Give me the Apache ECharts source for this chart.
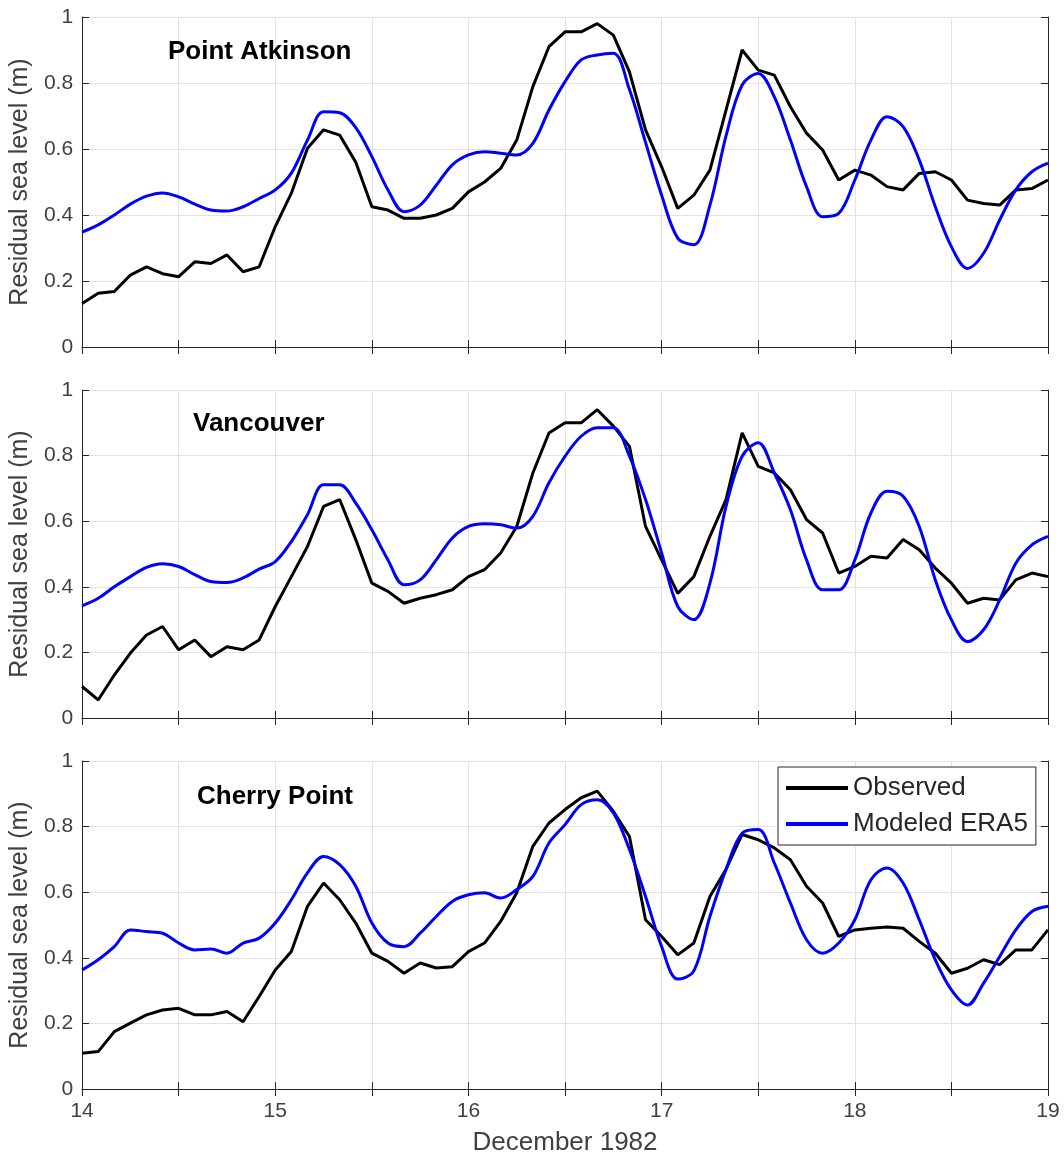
<!DOCTYPE html>
<html>
<head>
<meta charset="utf-8">
<script src="https://cdn.jsdelivr.net/npm/echarts@6/dist/echarts.min.js"></script>
<style>
  html, body { margin: 0; padding: 0; background: #fff; }
  #chart { width: 1064px; height: 1159px; }
</style>
</head>
<body>
<div id="chart"></div>
<script>
// time axis: every 2 hours from 14 Dec to 19 Dec 1982
const days = Array.from({ length: 61 }, (_, i) => 14 + i / 12);

const stations = ["Point Atkinson", "Vancouver", "Cherry Point"];

// Point Atkinson
const paObserved = [0.132, 0.163, 0.168, 0.218, 0.243, 0.222, 0.213, 0.258, 0.253, 0.279,
  0.228, 0.243, 0.365, 0.466, 0.602, 0.658, 0.642, 0.56, 0.425, 0.415,
  0.39, 0.39, 0.40, 0.42, 0.47, 0.50, 0.541, 0.627, 0.789, 0.91,
  0.955, 0.955, 0.98, 0.945, 0.834, 0.658, 0.546, 0.42, 0.46, 0.536,
  0.718, 0.90, 0.839, 0.824, 0.728, 0.648, 0.597, 0.506, 0.536, 0.521,
  0.486, 0.476, 0.526, 0.531, 0.506, 0.445, 0.435, 0.43, 0.476, 0.48, 0.506];
const paModeled = [0.348, 0.37, 0.40, 0.433, 0.457, 0.467, 0.455, 0.433, 0.415, 0.412,
  0.425, 0.45, 0.476, 0.527, 0.627, 0.713, 0.71, 0.665, 0.577, 0.476,
  0.41, 0.43, 0.49, 0.552, 0.582, 0.592, 0.587, 0.582, 0.617, 0.718,
  0.804, 0.87, 0.885, 0.89, 0.78, 0.62, 0.46, 0.33, 0.31, 0.43,
  0.64, 0.794, 0.829, 0.758, 0.627, 0.486, 0.395, 0.405, 0.506, 0.627,
  0.698, 0.668, 0.567, 0.425, 0.304, 0.238, 0.284, 0.385, 0.476, 0.531, 0.557];

// Vancouver
const vaObserved = [0.096, 0.055, 0.131, 0.198, 0.253, 0.279, 0.208, 0.238, 0.187, 0.217,
  0.208, 0.238, 0.34, 0.431, 0.523, 0.645, 0.666, 0.544, 0.411, 0.386,
  0.35, 0.365, 0.376, 0.391, 0.431, 0.452, 0.503, 0.584, 0.747, 0.869,
  0.90, 0.90, 0.94, 0.89, 0.828, 0.584, 0.482, 0.38, 0.431, 0.554,
  0.666, 0.869, 0.767, 0.747, 0.696, 0.605, 0.564, 0.442, 0.462, 0.493,
  0.488, 0.544, 0.513, 0.457, 0.411, 0.35, 0.365, 0.36, 0.421, 0.442, 0.431];
const vaModeled = [0.342, 0.365, 0.40, 0.431, 0.459, 0.47, 0.462, 0.437, 0.416, 0.413,
  0.427, 0.454, 0.477, 0.538, 0.62, 0.711, 0.711, 0.655, 0.574, 0.482,
  0.406, 0.421, 0.482, 0.549, 0.584, 0.592, 0.589, 0.579, 0.615, 0.717,
  0.798, 0.859, 0.885, 0.885, 0.798, 0.666, 0.503, 0.34, 0.30, 0.411,
  0.645, 0.798, 0.839, 0.747, 0.635, 0.482, 0.391, 0.391, 0.482, 0.625,
  0.691, 0.676, 0.584, 0.421, 0.299, 0.233, 0.269, 0.36, 0.472, 0.528, 0.554];

// Cherry Point
const cpObserved = [0.109, 0.114, 0.175, 0.201, 0.226, 0.241, 0.246, 0.226, 0.226, 0.236,
  0.205, 0.282, 0.363, 0.419, 0.557, 0.628, 0.577, 0.506, 0.414, 0.389,
  0.353, 0.384, 0.369, 0.373, 0.419, 0.445, 0.511, 0.598, 0.74, 0.811,
  0.852, 0.888, 0.908, 0.847, 0.77, 0.516, 0.465, 0.409, 0.445, 0.587,
  0.67, 0.776, 0.76, 0.735, 0.699, 0.618, 0.567, 0.465, 0.485, 0.49,
  0.494, 0.49, 0.45, 0.414, 0.353, 0.368, 0.394, 0.379, 0.424, 0.424, 0.485];
const cpModeled = [0.363, 0.394, 0.434, 0.485, 0.48, 0.475, 0.445, 0.424, 0.427, 0.414,
  0.445, 0.46, 0.506, 0.577, 0.659, 0.709, 0.684, 0.618, 0.506, 0.445,
  0.434, 0.475, 0.526, 0.572, 0.592, 0.598, 0.582, 0.608, 0.648, 0.75,
  0.806, 0.867, 0.882, 0.842, 0.73, 0.587, 0.434, 0.335, 0.36, 0.526,
  0.669, 0.78, 0.791, 0.689, 0.567, 0.455, 0.414, 0.445, 0.516, 0.638,
  0.674, 0.628, 0.516, 0.394, 0.302, 0.256, 0.323, 0.404, 0.485, 0.541, 0.557];

const observed = [paObserved, vaObserved, cpObserved];
const modeled = [paModeled, vaModeled, cpModeled];

const font = "Liberation Sans, Arial, sans-serif";
const axisColor = "#262626";
const labelColor = "#404040";
const gridColor = "#e3e3e3";

const grids = [
  { left: 82, right: 16, top: 17, height: 330 },
  { left: 82, right: 16, top: 390, height: 328 },
  { left: 82, right: 16, top: 761, height: 328 },
];
const titleTops = [39, 411, 784];
const titleLefts = [168, 193, 197];

const xAxes = [];
const yAxes = [];
const series = [];

grids.forEach((g, i) => {
  const last = i === grids.length - 1;
  xAxes.push({
    type: "value", gridIndex: i, min: 14, max: 19, interval: 0.5,
    axisLine: { lineStyle: { color: axisColor, width: 1 } },
    axisTick: { inside: true, length: 7, lineStyle: { color: axisColor } },
    axisLabel: {
      show: last, color: labelColor, fontSize: 21, fontFamily: font, margin: 12,
      formatter: (v) => (Number.isInteger(v) ? String(v) : ""),
    },
    splitLine: { show: true, lineStyle: { color: gridColor, width: 1 } },
    name: last ? "December 1982" : "",
    nameLocation: "middle", nameGap: 41,
    nameTextStyle: { color: labelColor, fontSize: 26, fontFamily: font },
  });
  // top edge of the box
  xAxes.push({
    type: "value", gridIndex: i, min: 14, max: 19, interval: 0.5, position: "top",
    axisLine: { lineStyle: { color: axisColor, width: 1 } },
    axisTick: { inside: true, length: 7, lineStyle: { color: axisColor } },
    axisLabel: { show: false }, splitLine: { show: false },
  });
  yAxes.push({
    type: "value", gridIndex: i, min: 0, max: 1, interval: 0.2,
    axisLine: { show: true, lineStyle: { color: axisColor, width: 1 } },
    axisTick: { show: true, inside: true, length: 7, lineStyle: { color: axisColor } },
    axisLabel: { color: labelColor, fontSize: 21, fontFamily: font, margin: 9 },
    splitLine: { show: true, lineStyle: { color: gridColor, width: 1 } },
    name: "Residual sea level (m)", nameLocation: "middle", nameGap: 45,
    nameTextStyle: { color: labelColor, fontSize: 25, fontFamily: font },
  });
  // right edge of the box
  yAxes.push({
    type: "value", gridIndex: i, min: 0, max: 1, interval: 0.2, position: "right",
    axisLine: { show: true, lineStyle: { color: axisColor, width: 1 } },
    axisTick: { show: true, inside: true, length: 7, lineStyle: { color: axisColor } },
    axisLabel: { show: false }, splitLine: { show: false },
  });

  series.push({
    name: "Observed", type: "line", xAxisIndex: 2 * i, yAxisIndex: 2 * i,
    data: days.map((d, k) => [d, observed[i][k]]),
    symbol: "none", lineStyle: { color: "#000000", width: 3 }, itemStyle: { color: "#000000" },
    z: 3,
  });
  series.push({
    name: "Modeled ERA5", type: "line", xAxisIndex: 2 * i, yAxisIndex: 2 * i,
    data: days.map((d, k) => [d, modeled[i][k]]),
    smooth: 0.35,
    symbol: "none", lineStyle: { color: "#0000ff", width: 3 }, itemStyle: { color: "#0000ff" },
    z: 4,
  });
});

const chart = echarts.init(document.getElementById("chart"));
chart.setOption({
  animation: false,
  backgroundColor: "#ffffff",
  title: stations.map((s, i) => ({
    text: s, left: titleLefts[i], top: titleTops[i], padding: 0,
    textStyle: { fontSize: 26, fontWeight: "bold", color: "#000", fontFamily: font },
  })),
  grid: grids,
  xAxis: xAxes,
  yAxis: yAxes,
  legend: {
    data: ["Observed", "Modeled ERA5"],
    icon: "rect",
    orient: "vertical", left: 778, top: 767,
    padding: [8, 8, 8, 8], itemGap: 10, itemWidth: 62, itemHeight: 4,
    backgroundColor: "#ffffff", borderColor: axisColor, borderWidth: 1, borderRadius: 0,
    textStyle: { fontSize: 26, lineHeight: 26, color: "#262626", fontFamily: font },
  },
  series: series,
});
</script>
</body>
</html>
